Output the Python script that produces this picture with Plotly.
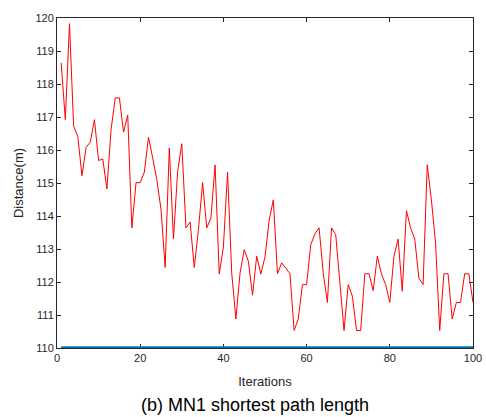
import plotly.graph_objects as go

# Shortest path length found at each iteration (MN1)
iterations = list(range(1, 101))
distance = [
    118.64, 116.92, 119.83, 116.72, 116.41, 115.22, 116.08, 116.24, 116.92, 115.68,
    115.73, 114.82, 116.62, 117.58, 117.58, 116.54, 117.06, 113.64, 115.01, 115.01,
    115.33, 116.39, 115.76, 115.10, 114.20, 112.44, 116.06, 113.30, 115.35, 116.19,
    113.64, 113.82, 112.44, 113.59, 115.01, 113.64, 113.94, 115.55, 112.24, 113.06,
    115.33, 112.27, 110.88, 112.27, 112.98, 112.63, 111.60, 112.78, 112.24, 112.76,
    113.87, 114.49, 112.25, 112.58, 112.42, 112.25, 110.53, 110.88, 111.92, 111.92,
    113.13, 113.46, 113.64, 112.27, 111.38, 113.64, 113.43, 111.90, 110.53, 111.92,
    111.57, 110.53, 110.53, 112.25, 112.25, 111.74, 112.78, 112.24, 111.92, 111.38,
    112.78, 113.30, 111.72, 114.16, 113.64, 113.30, 112.12, 111.92, 115.55, 114.49,
    113.18, 110.53, 112.25, 112.25, 110.88, 111.38, 111.38, 112.25, 112.25, 111.38,
]
# Reference (lower bound) line
baseline = [110.0] * len(iterations)

x_ticks = [0, 20, 40, 60, 80, 100]
y_ticks = list(range(110, 121))

font = "Liberation Sans, Arial, sans-serif"
axis_color = "#262626"

fig = go.Figure()
fig.add_trace(go.Scatter(x=iterations, y=baseline, mode="lines",
                         line=dict(color="#0072BD", width=3.5), showlegend=False))
fig.add_trace(go.Scatter(x=iterations, y=distance, mode="lines",
                         line=dict(color="#FF0000", width=1), showlegend=False))

common = dict(showgrid=False, zeroline=False, showline=True, linecolor=axis_color,
              linewidth=1, mirror="ticks", ticks="inside", ticklen=4, tickwidth=1,
              tickcolor=axis_color, automargin=False, layer="below traces",
              tickfont=dict(family=font, size=11, color=axis_color))

fig.update_layout(
    width=486, height=417,
    margin=dict(l=57, r=13, t=18, b=69),
    paper_bgcolor="white", plot_bgcolor="white",
    font=dict(family=font, color=axis_color),
    xaxis=dict(range=[0, 100], tickvals=x_ticks, **common,
               title=dict(text="Iterations", font=dict(family=font, size=13), standoff=13)),
    yaxis=dict(range=[110, 120], tickvals=y_ticks, **common,
               title=dict(text="Distance(m)", font=dict(family=font, size=13), standoff=8)),
    annotations=[dict(text="(b) MN1 shortest path length", xref="paper", yref="paper",
                      x=0.477, y=-0.135, xanchor="center", yanchor="top", showarrow=False,
                      font=dict(family=font, size=18, color="#000000"))],
)

fig.write_html("out.html")
